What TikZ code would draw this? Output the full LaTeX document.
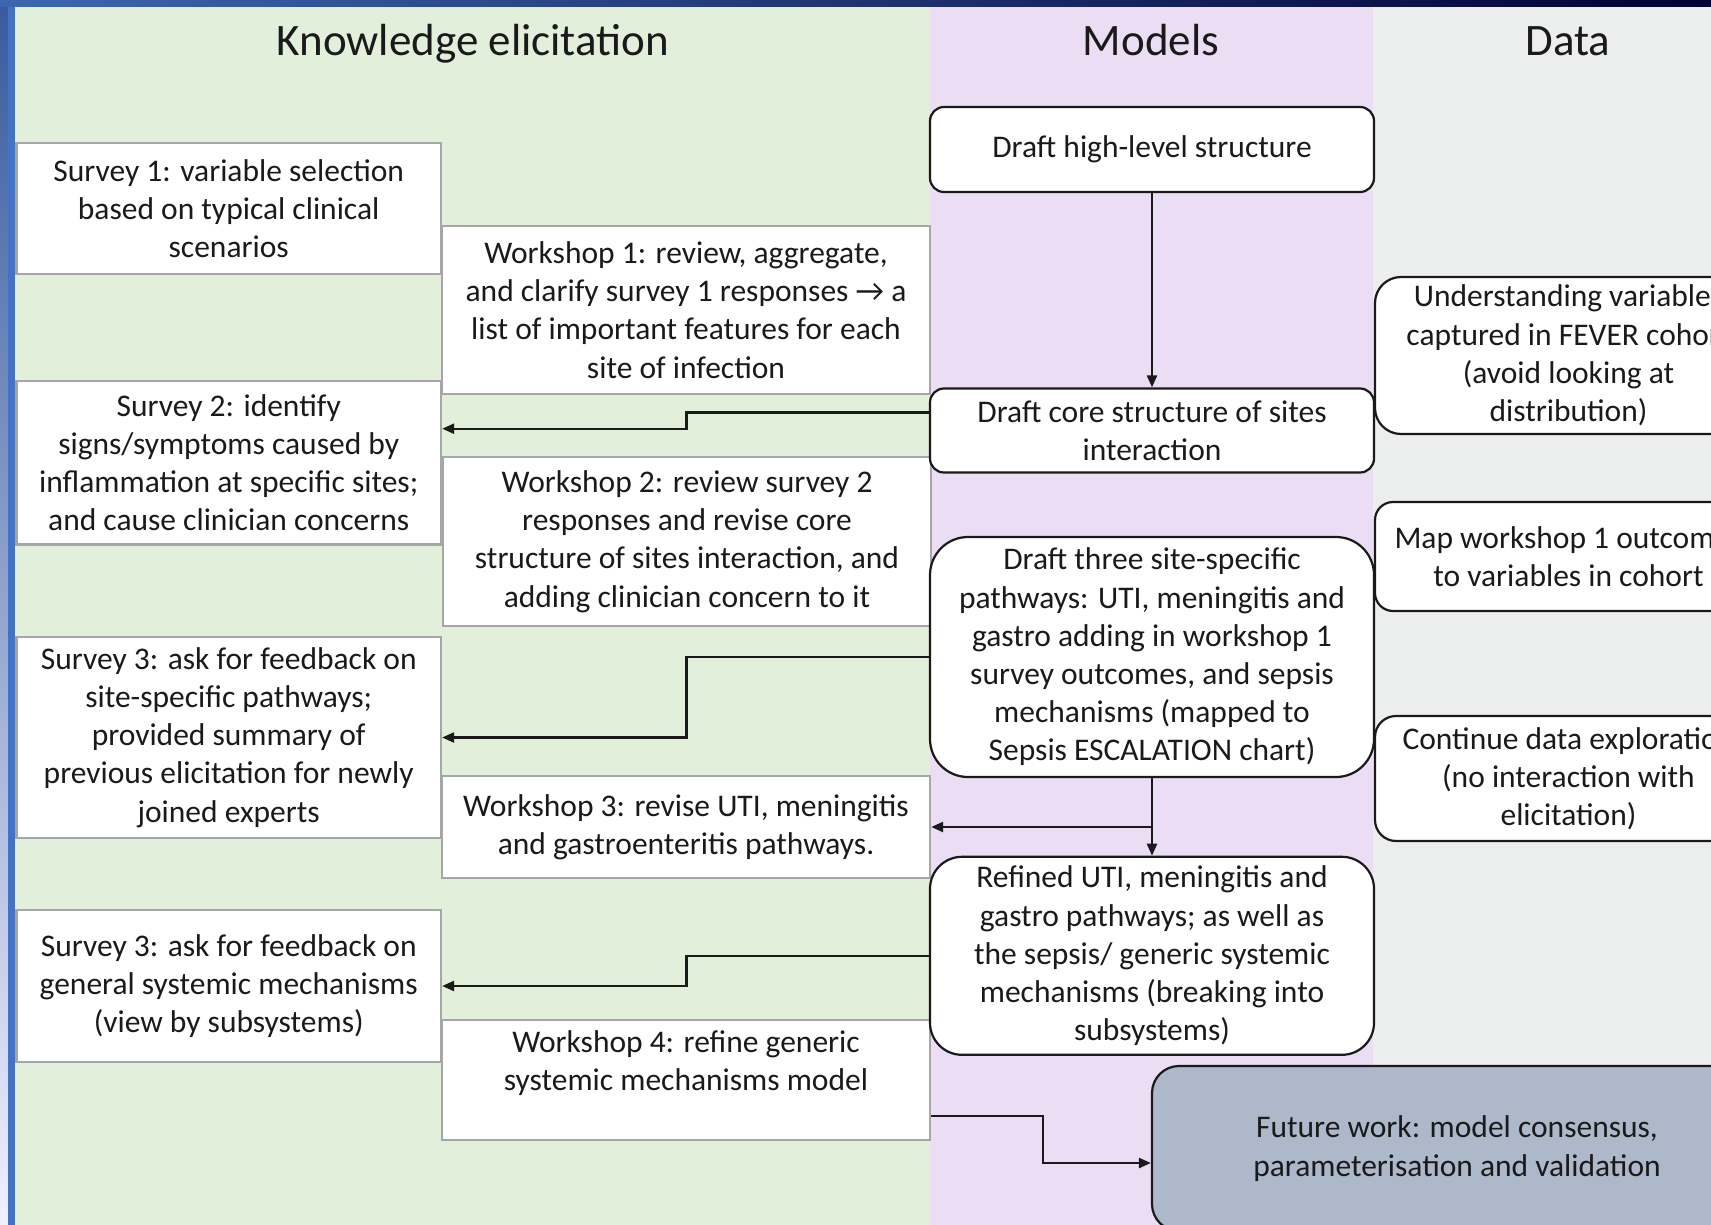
\documentclass[tikz,border=0pt]{standalone}
\usepackage{fontspec}
\setmainfont{Carlito}
\usetikzlibrary{arrows.meta}

\definecolor{elicit}{HTML}{E2EFDA}
\definecolor{models}{HTML}{EBDEF4}
\definecolor{datacol}{HTML}{ECEEED}
\definecolor{future}{HTML}{ADB9CA}
\definecolor{boxgray}{HTML}{A6A6A6}
\definecolor{ink}{HTML}{1A1A1A}
\definecolor{barblue}{HTML}{4472C4}

\newcommand{\bodyfont}{\fontsize{31.5}{38.2}\selectfont}
\newcommand{\headfont}{\fontsize{45}{54}\selectfont}

\begin{document}
\begin{tikzpicture}[x=1pt,y=-1pt,
  plain/.style={draw=boxgray, line width=2.4pt, fill=white, inner sep=0pt,
                align=center, font=\bodyfont, text=ink},
  rbox/.style={draw=ink, line width=2.2pt, fill=white, inner sep=0pt,
               align=center, font=\bodyfont, text=ink, rounded corners=#1},
  rbox/.default=14pt,
  head/.style={font=\headfont, text=ink, anchor=base},
  flow/.style={draw=ink, line width=2.4pt, -{Triangle[length=12pt,width=10pt]}},
]
\useasboundingbox (0,0) rectangle (1711,1225);
\clip (0,0) rectangle (1711,1225);

% column backgrounds
\fill[elicit]  (15,0)   rectangle (930,1225);
\fill[models]  (930,0)  rectangle (1373,1225);
\fill[datacol] (1373,0) rectangle (1711,1225);

% frame edges
\shade[top color=barblue!80!black, bottom color=white!94!blue] (0,0) rectangle (8,1225);
\fill[barblue] (8,0) rectangle (15,1225);
\shade[left color=barblue!90!black, right color=black!80!blue] (0,0) rectangle (1711,7);

% column headings (shared baseline)
\node[head] (hk) at (473,56)  {Knowledge elicitation};
\node[head] (hm) at (1151,56) {Models};
\node[head] (hd) at (1568,56) {Data};

% surveys
\node[plain, minimum width=424.5pt, minimum height=131pt] (s1) at (228.7,208.5)
  {Survey 1: variable selection\\based on typical clinical\\scenarios};
\node[plain, minimum width=424.5pt, minimum height=163.5pt] (s2) at (228.7,462.7)
  {Survey 2: identify\\signs/symptoms caused by\\inflammation at specific sites;\\and cause clinician concerns};
\node[plain, minimum width=424.5pt, minimum height=201pt] (s3a) at (228.7,737.5)
  {Survey 3: ask for feedback on\\site-specific pathways;\\provided summary of\\previous elicitation for newly\\joined experts};
\node[plain, minimum width=424.5pt, minimum height=152pt] (s3b) at (228.7,986)
  {Survey 3: ask for feedback on\\general systemic mechanisms\\(view by subsystems)};

% workshops
\node[plain, minimum width=488pt, minimum height=168pt] (w1) at (686,310)
  {Workshop 1: review, aggregate,\\and clarify survey 1 responses → a\\list of important features for each\\site of infection};
\node[plain, minimum width=488pt, minimum height=169pt] (w2) at (687,541.5)
  {Workshop 2: review survey 2\\responses and revise core\\structure of sites interaction, and\\adding clinician concern to it};
\node[plain, minimum width=488pt, minimum height=102pt] (w3) at (686,827)
  {Workshop 3: revise UTI, meningitis\\and gastroenteritis pathways.};
\node[plain, minimum width=488pt, minimum height=120pt] (w4) at (686,1080)
  {Workshop 4: refine generic\\systemic mechanisms model\\\mbox{}};

% models
\node[rbox=14pt, minimum width=444pt, minimum height=85pt] (m1) at (1152,149.5)
  {Draft high-level structure};
\node[rbox=14pt, minimum width=444pt, minimum height=84pt] (m2) at (1152,430.5)
  {Draft core structure of sites\\interaction};
\node[rbox=38pt, minimum width=444pt, minimum height=240pt] (m3) at (1152,657)
  {Draft three site-specific\\pathways: UTI, meningitis and\\gastro adding in workshop 1\\survey outcomes, and sepsis\\mechanisms (mapped to\\Sepsis ESCALATION chart)};
\node[rbox=32pt, minimum width=444pt, minimum height=198pt] (m4) at (1152,955.8)
  {Refined UTI, meningitis and\\gastro pathways; as well as\\the sepsis/ generic systemic\\mechanisms (breaking into\\subsystems)};

% data
\node[rbox=26pt, minimum width=387pt, minimum height=157pt] (d1) at (1568.5,355.5)
  {Understanding variables\\captured in FEVER cohort\\(avoid looking at\\distribution)};
\node[rbox=18pt, minimum width=387pt, minimum height=109pt] (d2) at (1568.5,556.5)
  {Map workshop 1 outcomes\\to variables in cohort};
\node[rbox=21pt, minimum width=387pt, minimum height=125pt] (d3) at (1568.5,778.5)
  {Continue data exploration\\(no interaction with\\elicitation)};

% next step
\node[rbox=27pt, fill=future, minimum width=610pt, minimum height=165pt] (fw) at (1457,1148.5)
  {Future work: model consensus,\\parameterisation and validation};

% connectors
\draw[flow] (m1.south) -- (m2.north);
\draw[flow] ([yshift=18pt]m2.west) -- ++(-242.5,0) |- ([yshift=34pt]s2.east);
\draw[flow] (m3.west) -- ++(-242.5,0) |- (s3a.east);
\draw[flow] (m3.south) -- (m4.north);
\draw[flow] (m3.south |- w3.east) -- (w3.east);
\draw[flow] (m4.west) -- ++(-242.5,0) |- (s3b.east);
\draw[flow] ([yshift=-36pt]w4.east) -- ++(112,0) |- ([yshift=-14.5pt]fw.west);
\end{tikzpicture}
\end{document}
